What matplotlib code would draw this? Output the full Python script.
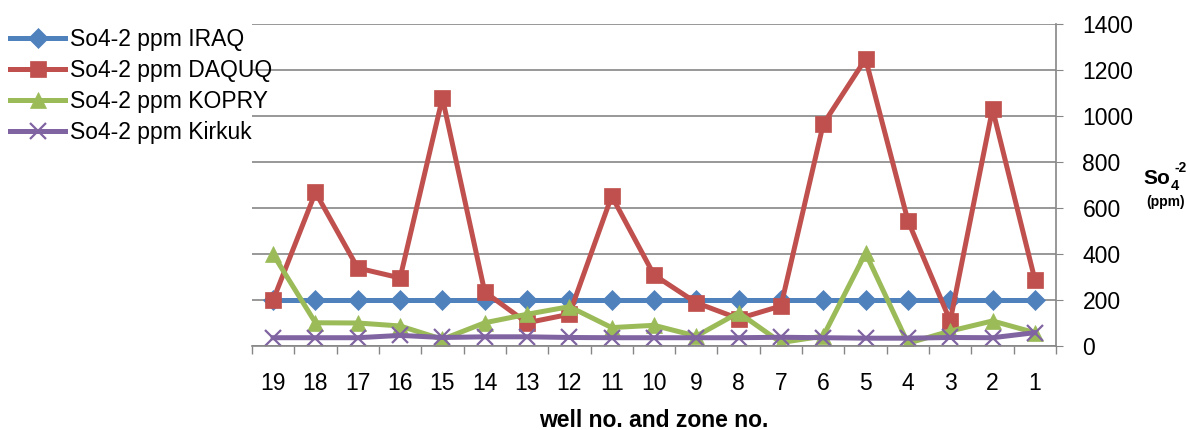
"""
Sulphate (SO4-2) concentration by well / zone, compared with the Iraqi
standard and the DAQUQ, KOPRY and Kirkuk series.
"""

import numpy as np
import matplotlib
matplotlib.use("Agg")
import matplotlib.pyplot as plt


# ──────────────────────────────────────────────
# Data
# ──────────────────────────────────────────────

wells = ["19", "18", "17", "16", "15", "14", "13", "12", "11", "10",
         "9", "8", "7", "6", "5", "4", "3", "2", "1"]

so4_iraq   = [200, 200, 200, 200, 200, 200, 200, 200, 200, 200,
              200, 200, 200, 200, 200, 200, 200, 200, 200]
so4_daquq  = [200, 668, 339, 296, 1078, 235, 101, 138, 652, 309,
              188, 119, 174, 965, 1248, 545, 109, 1030, 289]
so4_kopry  = [398, 101, 100, 87, 29, 101, 138, 171, 80, 90,
              43, 145, 15, 43, 404, 12, 65, 109, 58]
so4_kirkuk = [36, 36, 36, 46, 37, 40, 40, 37, 36, 36,
              36, 36, 38, 36, 34, 34, 37, 36, 58]

series_labels = ["So4-2 ppm IRAQ", "So4-2 ppm DAQUQ",
                 "So4-2 ppm KOPRY", "So4-2 ppm Kirkuk"]


# ──────────────────────────────────────────────
# Plot
# ──────────────────────────────────────────────

def main():
    plt.rcParams["font.family"] = ["Liberation Sans", "DejaVu Sans"]

    fig = plt.figure(figsize=(11.9, 4.3), dpi=100)
    ax = fig.add_axes([252 / 1190, 1 - 346 / 430, (1056 - 252) / 1190, 322 / 430])

    x = np.arange(len(wells))
    styles = [
        (so4_iraq,   "#4F81BD", "D", 10, 0.5),
        (so4_daquq,  "#C0504D", "s", 11, 0.5),
        (so4_kopry,  "#9BBB59", "^", 12, 0.5),
        (so4_kirkuk, "#8064A2", "x", 11, 1.6),
    ]
    for (vals, color, marker, ms, mew), label in zip(styles, series_labels):
        ax.plot(x, vals, color=color, lw=3.6, marker=marker, ms=ms,
                markeredgewidth=mew, markeredgecolor=color,
                label=label, solid_joinstyle="round")

    # axes ranges and ticks
    ax.set_xlim(-0.5, len(wells) - 0.5)
    ax.set_ylim(0, 1400)
    ax.set_yticks(np.arange(0, 1401, 200))
    ax.yaxis.tick_right()
    ax.tick_params(axis="y", which="major", labelsize=16.5, length=5,
                   color="#868686", pad=14)

    ax.set_xticks(x)
    ax.set_xticklabels(wells)
    ax.set_xticks(np.arange(-0.5, len(wells), 1.0), minor=True)
    ax.tick_params(axis="x", which="major", length=0, labelsize=16.5, pad=19)
    ax.tick_params(axis="x", which="minor", length=6, color="#868686", width=1)

    ax.grid(axis="y", color="#868686", lw=1.2)
    ax.set_axisbelow(True)
    for side in ["left", "top"]:
        ax.spines[side].set_visible(False)
    for side in ["right", "bottom"]:
        ax.spines[side].set_color("#868686")
        ax.spines[side].set_linewidth(1.2)

    ax.set_xlabel("well no. and zone no.", fontsize=16.5, fontweight="bold",
                  labelpad=9.5)

    # right-hand axis title: So, subscript 4, superscript -2
    fig.text(1170 / 1190, 1 - 178 / 430, "So", fontsize=15, fontweight="bold",
             ha="right", va="center")
    fig.text(1171 / 1190, 1 - 186 / 430, "4", fontsize=10.5, fontweight="bold",
             ha="left", va="center")
    fig.text(1187 / 1190, 1 - 168 / 430, "-2", fontsize=10, fontweight="bold",
             ha="right", va="center")
    fig.text(1166 / 1190, 1 - 202 / 430, "(ppm)", fontsize=10, fontweight="bold",
             ha="center", va="center")

    fig.legend(loc="upper left", bbox_to_anchor=(10 / 1190, 1 - 28 / 430),
               frameon=False, fontsize=16.5, handlelength=2.4, handletextpad=0.2,
               labelspacing=0.35, borderpad=0, borderaxespad=0)

    plt.savefig("out.png", dpi=100)
    plt.close()


if __name__ == "__main__":
    main()
